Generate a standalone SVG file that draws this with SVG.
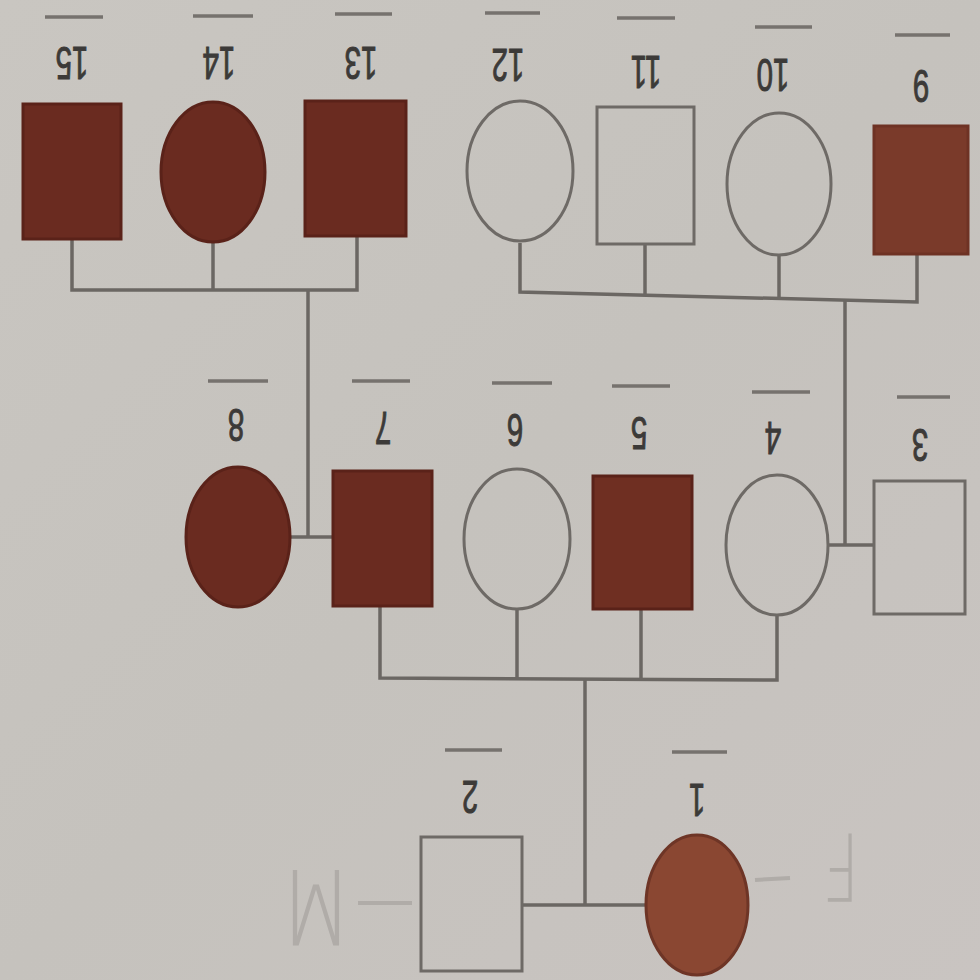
<svg xmlns="http://www.w3.org/2000/svg" width="980" height="980" viewBox="0 0 980 980">
<style>
.lbl{font-family:"Liberation Sans",Arial,sans-serif;font-size:46px;fill:#3c3a38;stroke:#3c3a38;stroke-width:1;text-anchor:middle;dominant-baseline:central}
.bar{stroke:#76726e;stroke-width:3.5}
.aff{fill:#6a2b20;stroke:#5a2219;stroke-width:3}
.un{fill:none;stroke:#6e6a66;stroke-width:3}
.con{fill:none;stroke:#6b6763;stroke-width:3.5}
.hw{font-family:"DejaVu Sans","Liberation Sans",sans-serif;font-weight:200;fill:#b0aca8;text-anchor:middle;dominant-baseline:central}
.hwl{stroke:#b0aca8;stroke-width:4}
</style>
<defs>
<linearGradient id="bg" x1="0" y1="0" x2="1" y2="1">
<stop offset="0" stop-color="#c9c6c1"/>
<stop offset="0.5" stop-color="#c5c2bd"/>
<stop offset="1" stop-color="#c9c4c1"/>
</linearGradient>
</defs>
<rect width="980" height="980" fill="url(#bg)"/>
<g id="handwriting">
<text class="hw" font-size="104" transform="translate(316,906) rotate(180) scale(0.82,1)">M</text>
<line class="hwl" x1="358" y1="903" x2="412" y2="903"/>
<text class="hw" font-size="92" transform="translate(841,866) rotate(180) scale(0.7,1)">F</text>
<line class="hwl" x1="755" y1="880" x2="790" y2="878"/>
</g>
<g id="connectors">
<polyline class="con" points="72,240 72,290 357,290 357,237"/>
<line class="con" x1="213" y1="243" x2="213" y2="290"/>
<polyline class="con" points="308,290 308,537"/>
<line class="con" x1="290" y1="537" x2="332" y2="537"/>
<polyline class="con" points="520,243 520,292 917,302 917,254"/>
<line class="con" x1="645" y1="244" x2="645" y2="294"/>
<line class="con" x1="779" y1="256" x2="779" y2="297"/>
<line class="con" x1="845" y1="299" x2="845" y2="545"/>
<line class="con" x1="829" y1="545" x2="873" y2="545"/>
<polyline class="con" points="380,607 380,678 777,680 777,615"/>
<line class="con" x1="517" y1="610" x2="517" y2="678"/>
<line class="con" x1="641" y1="610" x2="641" y2="680"/>
<line class="con" x1="585" y1="679" x2="585" y2="905"/>
<line class="con" x1="523" y1="905" x2="646" y2="905"/>
</g>
<g id="n15"><rect class="aff" x="23" y="104" width="98" height="135"/><text class="lbl" transform="translate(72,63) rotate(180) scale(0.64,1)">15</text><line class="bar" x1="45" y1="17" x2="103" y2="17"/></g>
<g id="n14"><ellipse class="aff" cx="213" cy="172" rx="52" ry="70"/><text class="lbl" transform="translate(219,63) rotate(180) scale(0.64,1)">14</text><line class="bar" x1="193" y1="16" x2="253" y2="16"/></g>
<g id="n13"><rect class="aff" x="305" y="101" width="101" height="135"/><text class="lbl" transform="translate(361,63) rotate(180) scale(0.64,1)">13</text><line class="bar" x1="335" y1="14" x2="392" y2="14"/></g>
<g id="n12"><ellipse class="un" cx="520" cy="171" rx="53" ry="70"/><text class="lbl" transform="translate(508,65) rotate(180) scale(0.64,1)">12</text><line class="bar" x1="485" y1="13" x2="540" y2="13"/></g>
<g id="n11"><rect class="un" x="597" y="107" width="97" height="137"/><text class="lbl" transform="translate(646,72) rotate(180) scale(0.64,1)">11</text><line class="bar" x1="617" y1="18" x2="675" y2="18"/></g>
<g id="n10"><ellipse class="un" cx="779" cy="184" rx="52" ry="71"/><text class="lbl" transform="translate(773,75) rotate(180) scale(0.64,1)">10</text><line class="bar" x1="755" y1="27" x2="812" y2="27"/></g>
<g id="n9"><rect class="aff" x="874" y="126" width="94" height="128" style="fill:#7a3a2a;stroke:#6e3224"/><text class="lbl" transform="translate(921,86) rotate(180) scale(0.64,1)">9</text><line class="bar" x1="895" y1="35" x2="950" y2="35"/></g>
<g id="n8"><ellipse class="aff" cx="238" cy="537" rx="52" ry="70"/><text class="lbl" transform="translate(236,425) rotate(180) scale(0.64,1)">8</text><line class="bar" x1="208" y1="381" x2="268" y2="381"/></g>
<g id="n7"><rect class="aff" x="333" y="471" width="99" height="135"/><text class="lbl" transform="translate(383,428) rotate(180) scale(0.64,1)">7</text><line class="bar" x1="352" y1="381" x2="410" y2="381"/></g>
<g id="n6"><ellipse class="un" cx="517" cy="539" rx="53" ry="70"/><text class="lbl" transform="translate(515,430) rotate(180) scale(0.64,1)">6</text><line class="bar" x1="492" y1="383" x2="552" y2="383"/></g>
<g id="n5"><rect class="aff" x="593" y="476" width="99" height="133" style="fill:#6f2f22"/><text class="lbl" transform="translate(639,433) rotate(180) scale(0.64,1)">5</text><line class="bar" x1="612" y1="386" x2="670" y2="386"/></g>
<g id="n4"><ellipse class="un" cx="777" cy="545" rx="51" ry="70"/><text class="lbl" transform="translate(773,438) rotate(180) scale(0.64,1)">4</text><line class="bar" x1="752" y1="392" x2="810" y2="392"/></g>
<g id="n3"><rect class="un" x="874" y="481" width="91" height="133"/><text class="lbl" transform="translate(920,445) rotate(180) scale(0.64,1)">3</text><line class="bar" x1="897" y1="397" x2="950" y2="397"/></g>
<g id="n2"><rect class="un" x="421" y="837" width="101" height="134"/><text class="lbl" transform="translate(470,797) rotate(180) scale(0.64,1)">2</text><line class="bar" x1="445" y1="750" x2="502" y2="750"/></g>
<g id="n1"><ellipse class="aff" cx="697" cy="905" rx="51" ry="70" style="fill:#8a4732;stroke:#6e3526"/><text class="lbl" transform="translate(697,800) rotate(180) scale(0.64,1)">1</text><line class="bar" x1="672" y1="752" x2="727" y2="752"/></g>
</svg>
